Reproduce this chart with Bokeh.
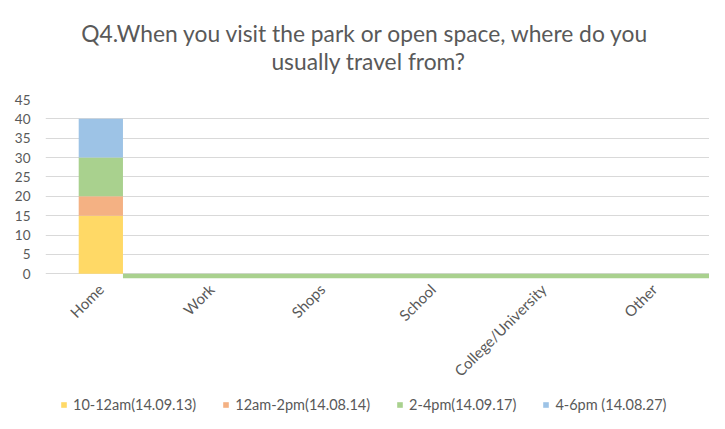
import math
from bokeh.plotting import figure
from bokeh.models import Range1d, FixedTicker, ColumnDataSource
from bokeh.layouts import column
from bokeh.core.properties import value
from bokeh.embed import file_html
from bokeh.resources import INLINE

categories = ["Home", "Work", "Shops", "School", "College/University", "Other"]
series_names = ["10-12am(14.09.13)", "12am-2pm(14.08.14)", "2-4pm(14.09.17)", "4-6pm (14.08.27)"]
s1 = [15, 0, 0, 0, 0, 0]
s2 = [5, 0, 0, 0, 0, 0]
s3 = [10, 0, 0, 0, 0, 0]
s4 = [10, 0, 0, 0, 0, 0]
y_ticks = [0, 5, 10, 15, 20, 25, 30, 35, 40, 45]
title_lines = ["Q4.When you visit the park or open space, where do you", "usually travel from?"]

colors = ["#FFD966", "#F4B183", "#A9D18E", "#9DC3E6"]
FONT = "Lato"
GREY = "#595959"
W = 709
FRAME_L = 45  # frame left edge shared by all stacked figures


def bare(fig):
    fig.outline_line_color = None
    fig.background_fill_color = "white"
    fig.border_fill_color = "white"
    return fig


xpos = [i + 0.5 for i in range(len(categories))]
src = ColumnDataSource(dict(x=xpos, a=s1, b=s2, c=s3, d=s4))

# ---- title strip (x in page pixels, y in pixels from strip bottom) ----
tfig = bare(figure(width=W, height=80, output_backend="svg", toolbar_location=None,
                   title=None, x_range=Range1d(FRAME_L, W), y_range=Range1d(0, 80),
                   x_axis_type=None, y_axis_type=None,
                   min_border_left=FRAME_L, min_border_right=0,
                   min_border_top=0, min_border_bottom=0))
tfig.grid.visible = False
tfig.text(x=[365, 368], y=[48, 19.5], text=title_lines, text_font=value(FONT),
          text_font_size="22.8px", text_color=GREY, text_align="center",
          text_baseline="middle")

# ---- main chart ----
p = bare(figure(width=W, height=310, output_backend="svg", toolbar_location=None,
                title=None,
                x_range=Range1d(0, len(categories)), y_range=Range1d(-1.2, 45),
                min_border_left=FRAME_L, min_border_right=0, min_border_top=19,
                min_border_bottom=112))

p.ygrid.grid_line_color = "#D9D9D9"
p.ygrid.grid_line_width = 1
p.xgrid.grid_line_color = None
p.yaxis.ticker = FixedTicker(ticks=y_ticks)
p.xaxis.ticker = FixedTicker(ticks=xpos)
p.xaxis.major_label_overrides = {x: c for x, c in zip(xpos, categories)}
p.xaxis.major_label_orientation = math.pi / 4

for ax in (p.xaxis[0], p.yaxis[0]):
    ax.axis_line_color = None
    ax.major_tick_line_color = None
    ax.minor_tick_line_color = None
    ax.major_label_text_font = FONT
    ax.major_label_text_color = GREY
p.yaxis.major_label_text_font_size = "13.5px"
p.xaxis.major_label_text_font_size = "15px"
p.yaxis.major_tick_out = 0
p.yaxis.major_label_standoff = 15
p.xaxis.major_label_standoff = 2

p.vbar_stack(["a", "b", "c", "d"], x="x", width=0.4, color=colors, source=src,
             line_color=None)

# Baseline strip below zero (as in the reference rendering)
p.quad(left=[xpos[0] + 0.2], right=[len(categories)], bottom=[-1.2], top=[0],
       color=colors[2], line_color=None)

# ---- legend strip ----
lfig = bare(figure(width=W, height=23, output_backend="svg", toolbar_location=None,
                   title=None, x_range=Range1d(100, 101), y_range=Range1d(100, 101),
                   x_axis_type=None, y_axis_type=None,
                   min_border_left=FRAME_L, min_border_right=0,
                   min_border_top=0, min_border_bottom=0))
lfig.grid.visible = False
lfig.vbar_stack(["a", "b", "c", "d"], x="x", width=0.4, color=colors, source=src,
                legend_label=series_names, line_color=None)
leg = lfig.legend[0]
leg.orientation = "horizontal"
leg.location = (15, 0)
leg.border_line_color = None
leg.background_fill_alpha = 0
leg.label_text_font = FONT
leg.label_text_font_size = "14.5px"
leg.label_text_color = GREY
leg.label_height = 14
leg.label_text_baseline = "middle"
leg.glyph_width = 7
leg.glyph_height = 7
leg.label_standoff = 6
leg.spacing = 26
leg.padding = 0
leg.margin = 0

layout = column(tfig, p, lfig, spacing=0)
open("out.html", "w").write(file_html(layout, INLINE))
